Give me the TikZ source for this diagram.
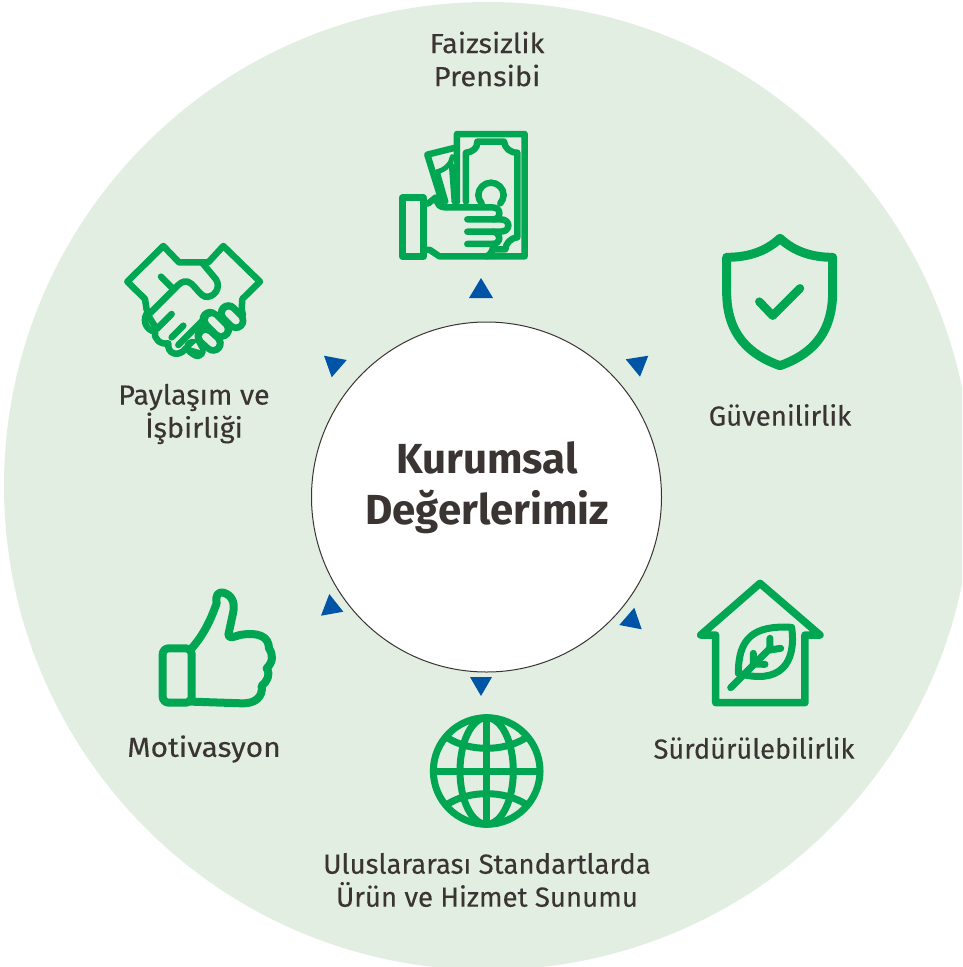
\documentclass[tikz,border=0pt]{standalone}
\usepackage{fontspec}
\setmainfont{Fira Sans}
\newfontfamily\labfont{Fira Sans}[FakeBold=0.25]
\definecolor{bgg}{HTML}{E3EEE3}
\definecolor{ico}{HTML}{00A651}
\definecolor{tri}{HTML}{0054A6}
\definecolor{txt}{HTML}{3A3532}
\tikzset{
 icon/.style={draw=ico,line width=#1,line join=round,line cap=round},
 hole/.style={draw=bgg,line width=#1,line join=round,line cap=round},
 lab/.style={text=txt,font=\labfont\fontsize{27.6}{33}\selectfont,align=center,inner sep=0pt},
 arrowtri/.style={fill=tri,draw=none},
 zoomed/.style={shift={#1},x=0.3333pt,y=-0.3333pt}
}
\begin{document}
\begin{tikzpicture}[x=1pt,y=-1pt]
\useasboundingbox (0,0) rectangle (962,967);
\begin{scope}
\clip (0,0) rectangle (962,967);
\fill[bgg] (488,486) circle[radius=484];
\end{scope}
\node[circle,draw=txt,fill=white,line width=1pt,minimum size=350pt,inner sep=0pt] (core) at (486.5,497) {};
\node[text=txt,font=\fontsize{42}{51}\selectfont\bfseries,align=center,inner sep=0pt] (title) at (487,488) {Kurumsal\\Değerlerimiz};
\node[lab] (l1) at (487,59) {\scalebox{1.05}[1]{Faizsizlik}\\\scalebox{1.05}[1]{Prensibi}};
\node[lab] (l2) at (780,415) {Güvenilirlik};
\node[lab] (l3) at (754,748) {\scalebox{0.985}[1]{Sürdürülebilirlik}};
\node[lab] (l4) at (487,880) {Uluslararası Standartlarda\\Ürün ve Hizmet Sunumu};
\node[lab] (l5) at (204,749) {\scalebox{1.085}[1]{Motivasyon}};
\node[lab] (l6) at (194,414) {\scalebox{1.04}[1]{Paylaşım ve}\\\scalebox{1.04}[1]{İşbirliği}};
% triangles
\fill[arrowtri] (481,278)--(493,298)--(469,298)--cycle;
\fill[arrowtri] (470,677)--(492,677)--(481,696)--cycle;
\fill[arrowtri] (324,355.7)--(346.7,360)--(331.7,377.3)--cycle;
\fill[arrowtri] (648.3,355.7)--(625.7,359.3)--(640,376.7)--cycle;
\fill[arrowtri] (329.3,594)--(343.3,611.7)--(321,615.7)--cycle;
\fill[arrowtri] (634.3,607.7)--(641.7,629.3)--(619.3,625)--cycle;
% money
\begin{scope}[zoomed={(380,120)}]
\draw[icon=6.5pt] (231,245)--(231,42)--(434,42)--(434,409)--(178,409)--(150,390)--(131,390);
\draw[icon=6.5pt] (67,233) rectangle (131,410);
\draw[icon=6.5pt] (258,245)--(258,98) .. controls (280,95) and (292,85) .. (292,65)--(372,65) .. controls (375,85) and (390,98) .. (412,98)--(412,352) .. controls (390,355) and (378,370) .. (376,388)--(342,388);
\draw[icon=6.5pt] (186,245)--(142,104)--(222,84);
\draw[icon=5pt] (217,110) .. controls (215,130) and (195,150) .. (172,155)--(198,245);
\draw[icon=5pt] (214,135)--(222,245);
\draw[icon=6.5pt] (131,250)--(145,250)--(168,232) .. controls (172,255) and (180,262) .. (195,262)--(335,262) .. controls (352,262) and (358,270) .. (358,280) .. controls (358,290) and (352,298) .. (340,298)--(262,298);
\draw[icon=6.5pt] (340,298)--(362,298) .. controls (378,298) and (385,308) .. (385,316) .. controls (385,326) and (378,335) .. (362,335)--(262,335);
\draw[icon=6.5pt] (340,335) .. controls (352,338) and (358,345) .. (358,353) .. controls (358,362) and (352,372) .. (338,372)--(262,372);
\draw[icon=6.5pt] (338,372) .. controls (342,385) and (335,400) .. (322,409);
\draw[icon=6.5pt] (305,250) .. controls (299,242) and (295,234) .. (295,225) .. controls (295,205) and (313,188) .. (333,188) .. controls (353,188) and (371,205) .. (371,225) .. controls (371,234) and (367,242) .. (361,250);
\end{scope}
% handshake
\begin{scope}[zoomed={(110,230)}]
\draw[icon=6.5pt] (110,240)--(105,207)--(52,155)--(160,48)--(207,97)--(295,97)--(340,48)--(450,155)--(397,207)--(395,240);
\draw[icon=6.5pt] (278,100)--(318,148) .. controls (335,175) and (310,205) .. (285,200) .. controls (270,195) and (260,175) .. (245,162) .. controls (230,148) and (215,155) .. (205,165)--(115,255);
\draw[icon=6.5pt] (153,140)--(190,177);
\draw[icon=6.5pt] (115,245) .. controls (95,265) and (105,300) .. (135,305) .. controls (130,325) and (150,345) .. (175,340) .. controls (170,370) and (205,385) .. (228,355);
\draw[icon=6.5pt] (118,262)--(140,297)--(185,252);
\draw[icon=6.5pt] (185,322)--(220,287);
\draw[icon=6.5pt] (205,345)--(285,265);
\draw[icon=21pt] (300,268)--(335,298);
\draw[icon=21pt] (355,248)--(378,272);
\draw[icon=21pt] (285,318)--(310,340);
\draw[icon=17pt] (248,352)--(262,362);
\draw[icon=7pt] (395,240)--(398,255);
\draw[hole=7.5pt] (305,270)--(333,298);
\draw[hole=7.5pt] (356,250)--(378,272);
\draw[hole=7.5pt] (287,320)--(309,340);
\fill[bgg] (243,352)--(258,338)--(270,360)--cycle;
\end{scope}
% shield
\begin{scope}[zoomed={(710,225)}]
\draw[icon=9pt] (210,40) .. controls (165,82) and (110,97) .. (50,97)--(50,200) .. controls (50,330) and (120,390) .. (210,422) .. controls (300,390) and (368,330) .. (368,200)--(368,97) .. controls (310,97) and (255,82) .. (210,40)--cycle;
\draw[icon=8.5pt] (148,230)--(188,272)--(270,190);
\end{scope}
% house
\begin{scope}[zoomed={(690,570)}]
\draw[icon=7.5pt] (77,195)--(32,195)--(210,40)--(390,195)--(345,195)--(345,398)--(77,398)--cycle;
\draw[icon=7pt] (305,172) .. controls (190,165) and (145,205) .. (145,310) .. controls (270,345) and (320,280) .. (305,172)--cycle;
\draw[icon=7pt] (122,353)--(240,235);
\draw[icon=7pt] (240,205)--(240,240)--(272,235);
\draw[icon=7pt] (190,250)--(190,282)--(225,283);
\end{scope}
% thumb
\begin{scope}[zoomed={(145,580)}]
\draw[icon=8pt,rounded corners=6pt] (53,205) rectangle (140,368);
\draw[icon=8pt] (140,205) .. controls (175,165) and (195,125) .. (215,70) .. controls (210,45) and (220,35) .. (235,38) .. controls (262,45) and (270,70) .. (265,95)--(250,165) .. controls (255,178) and (265,170) .. (285,165) .. controls (340,155) and (372,170) .. (372,205) .. controls (385,225) and (385,245) .. (365,265) .. controls (378,285) and (365,305) .. (350,318) .. controls (355,350) and (330,372) .. (290,370)--(140,365);
\end{scope}
% globe
\begin{scope}[zoomed={(420,705)}]
\draw[icon=7pt] (200,198) circle[radius=160];
\draw[icon=7pt] (200,198) ellipse[x radius=80,y radius=160];
\draw[icon=7pt] (200,38)--(200,358);
\draw[icon=7pt] (40,198)--(360,198);
\draw[icon=7pt] (85,100) .. controls (150,140) and (250,140) .. (315,100);
\draw[icon=7pt] (85,296) .. controls (150,256) and (250,256) .. (315,296);
\end{scope}
\end{tikzpicture}
\end{document}
